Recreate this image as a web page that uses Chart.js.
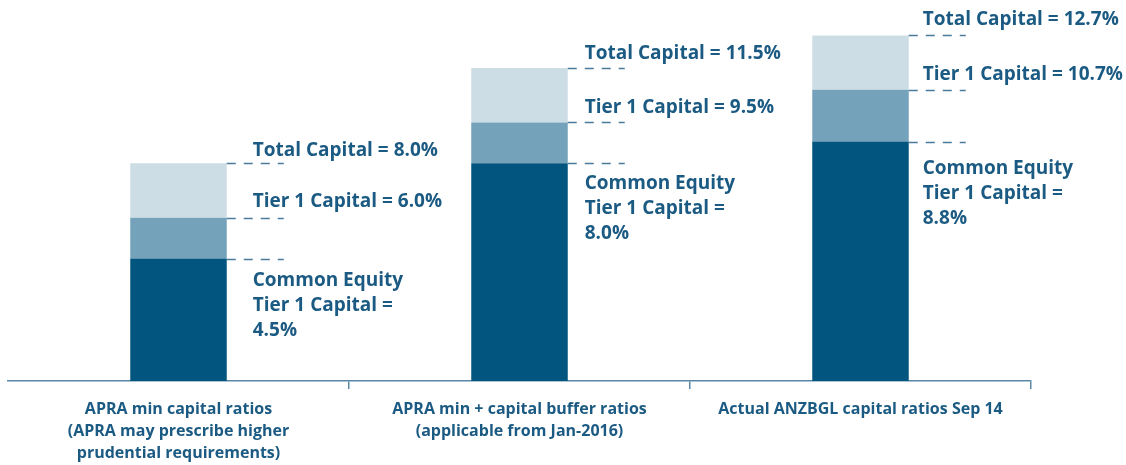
<!DOCTYPE html>
<html>
<head>
<meta charset="utf-8">
<script src="https://cdn.jsdelivr.net/npm/chart.js@4.4.1/dist/chart.umd.min.js"></script>
<style>
  html, body { margin: 0; padding: 0; background: #ffffff; }
  #wrap { width: 1126px; height: 465px; position: relative; }
</style>
</head>
<body>
<div id="wrap"><canvas id="c" width="1126" height="465"></canvas></div>
<script>
// ---- data ----
const categories = [
  ["APRA min capital ratios", "(APRA may prescribe higher", "prudential requirements)"],
  ["APRA min + capital buffer ratios", "(applicable from Jan-2016)"],
  ["Actual ANZBGL capital ratios Sep 14"]
];
const cet1Values = [4.5, 8.0, 8.8];        // Common Equity Tier 1
const additionalTier1 = [1.5, 1.5, 1.9];   // Tier 1 minus CET1
const tier2Values = [2.0, 2.0, 2.0];       // Total minus Tier 1
const seriesNames = ["Common Equity Tier 1", "Additional Tier 1", "Tier 2"];

// ---- style ----
const TEXT = '#1b5a82';
const AXIS = '#5a87a5';
const DASH = '#4a7b9c';
const labelOffsets = [26, 17, 14];   // horizontal gap from bar edge
const totalGap = [7, 9, 10];         // baseline above total line
const tier1Gap = [11, 9, 10];        // baseline above tier1 line
const cetGap = [27, 26, 32];         // first baseline below CET1 line

const annotPlugin = {
  id: 'annot',
  afterDatasetsDraw(chart) {
    const ctx = chart.ctx;
    const ys = chart.scales.y;
    const meta = chart.getDatasetMeta(0);
    ctx.save();
    categories.forEach((c, i) => {
      const p = meta.data[i].getProps(['x', 'width'], true);
      const right = p.x + p.width / 2;
      const lvCet = cet1Values[i];
      const lvT1 = lvCet + additionalTier1[i];
      const lvTot = lvT1 + tier2Values[i];
      // dashed leaders
      ctx.strokeStyle = DASH;
      ctx.lineWidth = 1.5;
      ctx.setLineDash([9, 8]);
      [lvCet, lvT1, lvTot].forEach(v => {
        const y = Math.round(ys.getPixelForValue(v)) + 0.5;
        ctx.beginPath();
        ctx.moveTo(right, y);
        ctx.lineTo(right + 57, y);
        ctx.stroke();
      });
      ctx.setLineDash([]);
      // labels
      ctx.fillStyle = TEXT;
      ctx.font = '700 19px "Open Sans", sans-serif';
      ctx.textAlign = 'left';
      ctx.textBaseline = 'alphabetic';
      const lx = right + labelOffsets[i];
      ctx.fillText('Total Capital = ' + lvTot.toFixed(1) + '%', lx, ys.getPixelForValue(lvTot) - totalGap[i]);
      ctx.fillText('Tier 1 Capital = ' + lvT1.toFixed(1) + '%', lx, ys.getPixelForValue(lvT1) - tier1Gap[i]);
      const yc = ys.getPixelForValue(lvCet) + cetGap[i];
      ['Common Equity', 'Tier 1 Capital =', lvCet.toFixed(1) + '%'].forEach((t, k) => {
        ctx.fillText(t, lx, yc + k * 25);
      });
    });
    ctx.restore();
  }
};

new Chart(document.getElementById('c'), {
  type: 'bar',
  data: {
    labels: categories,
    datasets: [
      { label: seriesNames[0], data: cet1Values, backgroundColor: '#02557f' },
      { label: seriesNames[1], data: additionalTier1, backgroundColor: '#74a2bb' },
      { label: seriesNames[2], data: tier2Values, backgroundColor: '#cddde5' }
    ]
  },
  options: {
    responsive: false,
    animation: false,
    events: [],
    layout: { padding: { left: 8, right: 95, top: 0, bottom: 0 } },
    datasets: { bar: { barPercentage: 0.283, categoryPercentage: 1, borderWidth: 0 } },
    plugins: { legend: { display: false }, tooltip: { enabled: false } },
    scales: {
      x: {
        stacked: true,
        afterFit: s => { s.height = 84; },
        grid: {
          display: true, drawOnChartArea: false, drawTicks: true, tickLength: 8,
          offset: true, lineWidth: 1.5,
          color: ctx => (ctx.index === 0 ? 'rgba(0,0,0,0)' : AXIS)
        },
        border: { display: true, color: AXIS, width: 1.5 },
        ticks: {
          color: TEXT, padding: 9, maxRotation: 0, autoSkip: false,
          font: { family: '"Open Sans", sans-serif', size: 16, weight: '700', lineHeight: '22px' }
        }
      },
      y: {
        stacked: true, display: false, min: 0, max: 14
      }
    }
  },
  plugins: [annotPlugin]
});
</script>
</body>
</html>
